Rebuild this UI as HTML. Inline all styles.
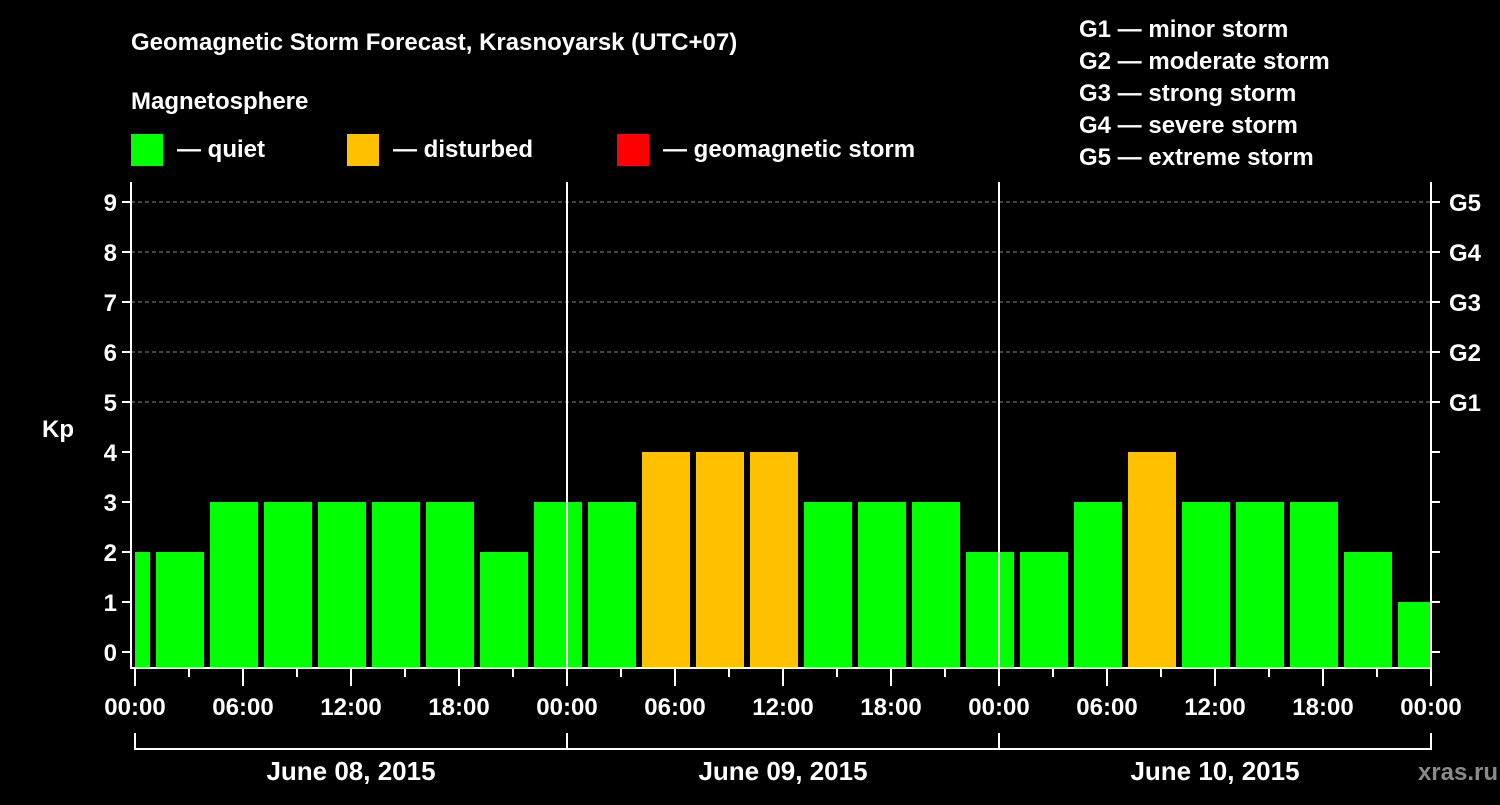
<!DOCTYPE html>
<html><head><meta charset="utf-8"><style>
body{margin:0;background:#000;width:1500px;height:800px;overflow:hidden}
svg text{font-family:"Liberation Sans",Arial,sans-serif;font-weight:bold;fill:#fff}
</style></head><body>
<svg id="chart" width="1500" height="800" xmlns="http://www.w3.org/2000/svg">
<rect width="1500" height="800" fill="#000"/>
<text x="131" y="50" font-size="24">Geomagnetic Storm Forecast, Krasnoyarsk (UTC+07)</text>
<text x="131" y="109" font-size="24">Magnetosphere</text>
<g><rect x="131" y="134" width="32" height="32" fill="#00ff00"/><text x="177" y="157" font-size="24">— quiet</text></g>
<g><rect x="347" y="134" width="32" height="32" fill="#ffc000"/><text x="393" y="157" font-size="24">— disturbed</text></g>
<g><rect x="617" y="134" width="32" height="32" fill="#ff0000"/><text x="663" y="157" font-size="24">— geomagnetic storm</text></g>
<g font-size="24">
<text x="1079" y="37">G1 — minor storm</text>
<text x="1079" y="69">G2 — moderate storm</text>
<text x="1079" y="101">G3 — strong storm</text>
<text x="1079" y="133">G4 — severe storm</text>
<text x="1079" y="165">G5 — extreme storm</text>
</g>
<g id="grid"></g><g id="bars"></g><g id="axes"></g>
<text x="1498" y="780" font-size="24" fill="#888" style="fill:#8a8a8a" text-anchor="end">xras.ru</text>
</svg>
<script>
const kpValues=[2,2,3,3,3,3,3,2,3,3,4,4,4,3,3,3,2,2,3,4,3,3,3,2,1];
const barStartHours=[-2,1,4,7,10,13,16,19,22,25,28,31,34,37,40,43,46,49,52,55,58,61,64,67,70];
const dayLabels=["June 08, 2015","June 09, 2015","June 10, 2015"];
const hourLabels=["00:00","06:00","12:00","18:00"];
const gLabels=["G1","G2","G3","G4","G5"];
const NS="http://www.w3.org/2000/svg";
const X0=135,PX_H=18,Y0=652,PX_K=50,LEFT=131,RIGHT=1431,TOP=182,BOT=668;
const xs=h=>X0+h*PX_H, ys=k=>Y0-k*PX_K;
function mk(tag,attrs,parent){const e=document.createElementNS(NS,tag);for(const k in attrs)e.setAttribute(k,attrs[k]);parent.appendChild(e);return e;}
const grid=document.getElementById('grid'),bars=document.getElementById('bars'),axes=document.getElementById('axes');
for(let k=5;k<=9;k++){const l=mk('line',{x1:LEFT,x2:RIGHT,y1:ys(k),y2:ys(k),stroke:'#888','stroke-dasharray':'4,3','stroke-width':1},grid);

}
kpValues.forEach((v,i)=>{
 let x1=Math.max(xs(barStartHours[i])+3,xs(0)),x2=Math.min(xs(barStartHours[i]+3)-3,RIGHT);
 const col=v>=5?'#ff0000':(v>=4?'#ffc000':'#00ff00');
 const r=mk('rect',{x:x1,y:ys(v),width:x2-x1,height:BOT-ys(v),fill:col},bars);
 
 
});
// axes
mk('line',{x1:LEFT,x2:LEFT,y1:TOP,y2:BOT+1,stroke:'#fff','stroke-width':2},axes);
mk('line',{x1:RIGHT,x2:RIGHT,y1:TOP,y2:BOT+1,stroke:'#fff','stroke-width':2},axes);
mk('line',{x1:LEFT,x2:RIGHT+1,y1:BOT,y2:BOT,stroke:'#fff','stroke-width':2},axes);
for(let d=1;d<3;d++)mk('line',{x1:xs(24*d),x2:xs(24*d),y1:TOP,y2:BOT,stroke:'#fff','stroke-width':2},axes);
for(let k=0;k<=9;k++){
 mk('line',{x1:LEFT-9,x2:LEFT,y1:ys(k),y2:ys(k),stroke:'#fff','stroke-width':2},axes);
 mk('line',{x1:RIGHT,x2:RIGHT+9,y1:ys(k),y2:ys(k),stroke:'#fff','stroke-width':2},axes);
 const t=mk('text',{x:LEFT-14,y:ys(k)+9,'font-size':24,'text-anchor':'end'},axes);t.textContent=k;
 
 
}
gLabels.forEach((g,i)=>{const t=mk('text',{x:RIGHT+18,y:ys(5+i)+9,'font-size':24},axes);t.textContent=g;
 
 });
const kp=mk('text',{x:42,y:437,'font-size':24},axes);kp.textContent='Kp';


for(let h=0;h<=72;h+=3){const major=h%6===0;
 mk('line',{x1:xs(h),x2:xs(h),y1:BOT,y2:BOT+(major?18:9),stroke:'#fff','stroke-width':2},axes);
 if(major){const t=mk('text',{x:xs(h),y:715,'font-size':24,'text-anchor':'middle'},axes);t.textContent=hourLabels[(h/6)%4];
 
 }
}
mk('line',{x1:xs(0),x2:xs(72),y1:749,y2:749,stroke:'#fff','stroke-width':2},axes);
for(let d=0;d<=3;d++)mk('line',{x1:xs(24*d),x2:xs(24*d),y1:733,y2:750,stroke:'#fff','stroke-width':2},axes);
dayLabels.forEach((s,i)=>{const t=mk('text',{x:xs(24*i+12),y:780,'font-size':26,'text-anchor':'middle'},axes);t.textContent=s;
 
 });
</script>
</body></html>
